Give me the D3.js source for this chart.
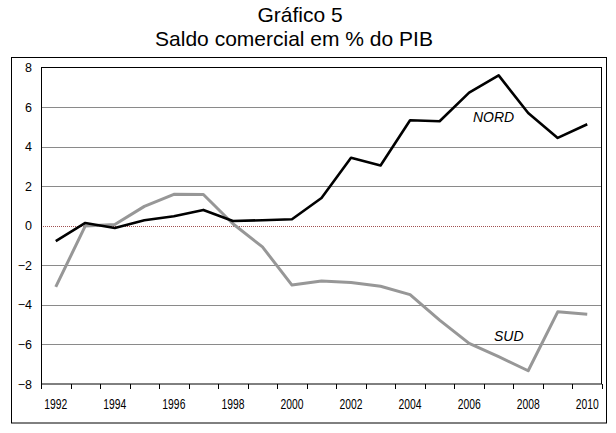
<!DOCTYPE html>
<html>
<head>
<meta charset="utf-8">
<script src="https://cdn.jsdelivr.net/npm/d3@7"></script>
<style>
html,body{margin:0;padding:0;background:#fff;}
svg{display:block;font-family:"Liberation Sans",Arial,sans-serif;}
</style>
</head>
<body>
<svg id="chart" width="616" height="433"></svg>
<script>
const years = [1992,1993,1994,1995,1996,1997,1998,1999,2000,2001,2002,2003,2004,2005,2006,2007,2008,2009,2010];
const nordValues = [-0.78,0.14,-0.11,0.28,0.48,0.80,0.24,0.28,0.33,1.40,3.44,3.05,5.33,5.28,6.73,7.60,5.70,4.44,5.13];
const sudValues = [-3.09,-0.01,0.06,0.98,1.59,1.58,0.10,-1.07,-3.00,-2.79,-2.87,-3.06,-3.48,-4.77,-5.95,-6.62,-7.33,-4.35,-4.47];
const yTicks = [-8,-6,-4,-2,0,2,4,6,8];
const xLabels = [1992,1994,1996,1998,2000,2002,2004,2006,2008,2010];
const titleLines = ["Gráfico 5","Saldo comercial em % do PIB"];
const seriesNames = ["NORD","SUD"];

const svg = d3.select("#chart");
const L = 41, R = 602, T = 67.5, B = 384;

// outer frame
svg.append("rect").attr("x",11.5).attr("y",57.5).attr("width",595).attr("height",365.5)
  .attr("fill","none").attr("stroke","#000").attr("stroke-width",1);

// titles
svg.append("text").attr("x",300).attr("y",21.5).attr("text-anchor","middle")
  .attr("font-size",21).attr("fill","#000").text(titleLines[0]);
svg.append("text").attr("x",294).attr("y",45.5).attr("text-anchor","middle")
  .attr("font-size",21).attr("fill","#000").text(titleLines[1]);

const x = d3.scaleBand().domain(years).range([L,R]).padding(0);
const y = d3.scaleLinear().domain([-8,8]).range([B,T]);
const cx = d => x(d) + x.bandwidth()/2;

// gridlines
svg.append("g").selectAll("line").data(yTicks.filter(v => v!==-8 && v!==8 && v!==0)).join("line")
  .attr("x1",L).attr("x2",R)
  .attr("y1",d=>Math.round(y(d))+0.5).attr("y2",d=>Math.round(y(d))+0.5)
  .attr("stroke","#8a8a8a").attr("stroke-width",1);
// zero line
svg.append("line").attr("x1",L).attr("x2",R)
  .attr("y1",Math.round(y(0))+0.5).attr("y2",Math.round(y(0))+0.5)
  .attr("stroke","#a05050").attr("stroke-width",1).attr("stroke-dasharray","1,1");

// plot border
svg.append("rect").attr("x",L+0.5).attr("y",T).attr("width",R-L-1).attr("height",B-T)
  .attr("fill","none").attr("stroke","#000").attr("stroke-width",1);

// y axis labels
const yAxis = d3.axisLeft(y).tickValues(yTicks).tickSize(0).tickPadding(9).tickFormat(d3.format("d"));
const gy = svg.append("g").attr("transform",`translate(${L},0)`).call(yAxis);
gy.select(".domain").remove();
gy.selectAll("text").attr("font-size",12.5).attr("fill","#000").attr("font-family","Liberation Sans, Arial, sans-serif");

// x ticks at band boundaries
const bounds = years.map(d => x(d)).concat([R]);
svg.append("g").selectAll("line").data(bounds).join("line")
  .attr("x1",d=>Math.round(d)+0.5).attr("x2",d=>Math.round(d)+0.5)
  .attr("y1",B).attr("y2",B+5).attr("stroke","#000").attr("stroke-width",1);

// x labels
svg.append("g").selectAll("text").data(xLabels).join("text")
  .attr("transform",d=>`translate(${cx(d)},409) scale(0.74,1)`)
  .attr("text-anchor","middle").attr("font-size",14).attr("fill","#000")
  .text(d=>d);

// lines
const line = d3.line().x((d,i)=>cx(years[i])).y(d=>y(d));
svg.append("path").datum(sudValues).attr("d",line).attr("fill","none")
  .attr("stroke","#979797").attr("stroke-width",3).attr("stroke-linejoin","round");
svg.append("path").datum(nordValues).attr("d",line).attr("fill","none")
  .attr("stroke","#000").attr("stroke-width",2.6).attr("stroke-linejoin","round");

// series labels
svg.append("text").attr("x",473).attr("y",121.5).attr("font-size",14).attr("font-style","italic")
  .attr("fill","#000").text(seriesNames[0]);
svg.append("text").attr("x",494).attr("y",340.5).attr("font-size",14).attr("font-style","italic")
  .attr("fill","#000").text(seriesNames[1]);
</script>
</body>
</html>
